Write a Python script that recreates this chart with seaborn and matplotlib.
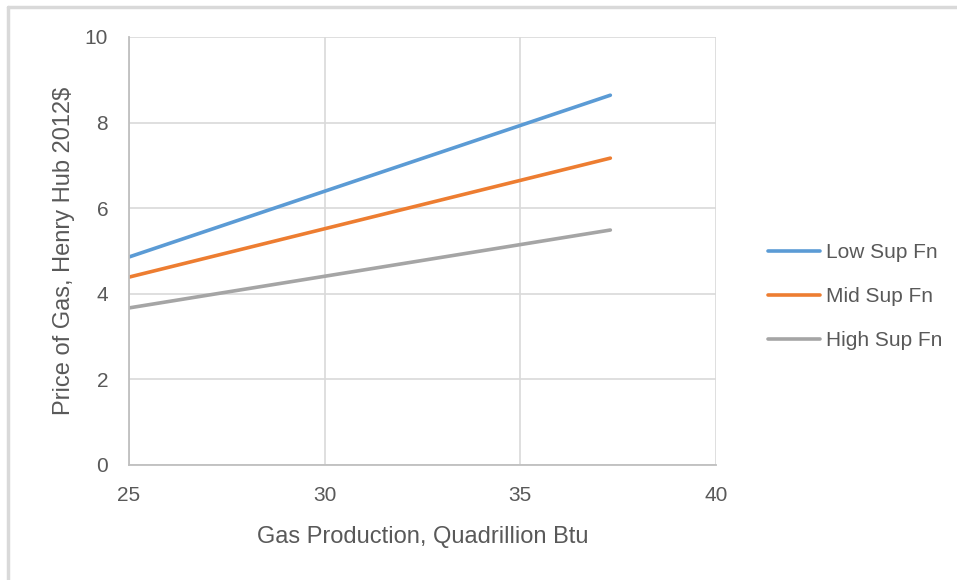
import pandas as pd
import matplotlib.pyplot as plt
import seaborn as sns
from matplotlib.lines import Line2D

# start and end of each supply curve
production = [25.0, 37.3]
low_sup = [4.86, 8.64]
mid_sup = [4.39, 7.17]
high_sup = [3.67, 5.49]
series_names = ["Low Sup Fn", "Mid Sup Fn", "High Sup Fn"]
colors = ["#5b9bd5", "#ed7d31", "#a5a5a5"]

x_ticks = [25, 30, 35, 40]
y_ticks = [0, 2, 4, 6, 8, 10]

rows = []
for name, vals in zip(series_names, [low_sup, mid_sup, high_sup]):
    for x, y in zip(production, vals):
        rows.append({"production": x, "price": y, "series": name})
df = pd.DataFrame(rows)

sns.set_style("white")
plt.rcParams['font.family'] = ['Liberation Sans', 'DejaVu Sans']
text_color = "#595959"
grid_color = "#d9d9d9"

fig = plt.figure(figsize=(9.57, 5.8), dpi=100)
ax = fig.add_axes([129/957, 1 - 465/580, (716 - 129)/957, (465 - 37)/580])

sns.lineplot(data=df, x="production", y="price", hue="series", hue_order=series_names,
             palette=colors, linewidth=2.6, ax=ax, legend=True)

ax.set_xlim(25, 40)
ax.set_ylim(0, 10)
ax.set_xticks(x_ticks)
ax.set_yticks(y_ticks)
ax.grid(True, color=grid_color, linewidth=1.2)
ax.set_axisbelow(True)
for side in ["top", "right"]:
    ax.spines[side].set_visible(False)
for side in ["left", "bottom"]:
    ax.spines[side].set_color("#bfbfbf")
    ax.spines[side].set_linewidth(1.3)
ax.tick_params(axis="both", length=0, labelsize=15, colors=text_color)
ax.tick_params(axis="x", pad=15)
ax.tick_params(axis="y", pad=15)
ax.set_xlabel("Gas Production, Quadrillion Btu", fontsize=17, color=text_color, labelpad=15)
ax.set_ylabel("Price of Gas, Henry Hub 2012$", fontsize=17, color=text_color, labelpad=7)

ax.legend(loc="center left", bbox_to_anchor=(1.0886, 0.393), frameon=False, fontsize=15,
          borderaxespad=0, borderpad=0, handlelength=2.5, handletextpad=0.3,
          labelspacing=1.2, labelcolor=text_color)

# light frame round the chart (only top and left edges show in the crop)
fig.add_artist(Line2D([8/957, 8/957], [0, 1 - 7/580], transform=fig.transFigure,
                      color="#d9d9d9", linewidth=2.5))
fig.add_artist(Line2D([8/957, 1], [1 - 7/580, 1 - 7/580], transform=fig.transFigure,
                      color="#d9d9d9", linewidth=2.5))

fig.savefig("out.png", dpi=100)
